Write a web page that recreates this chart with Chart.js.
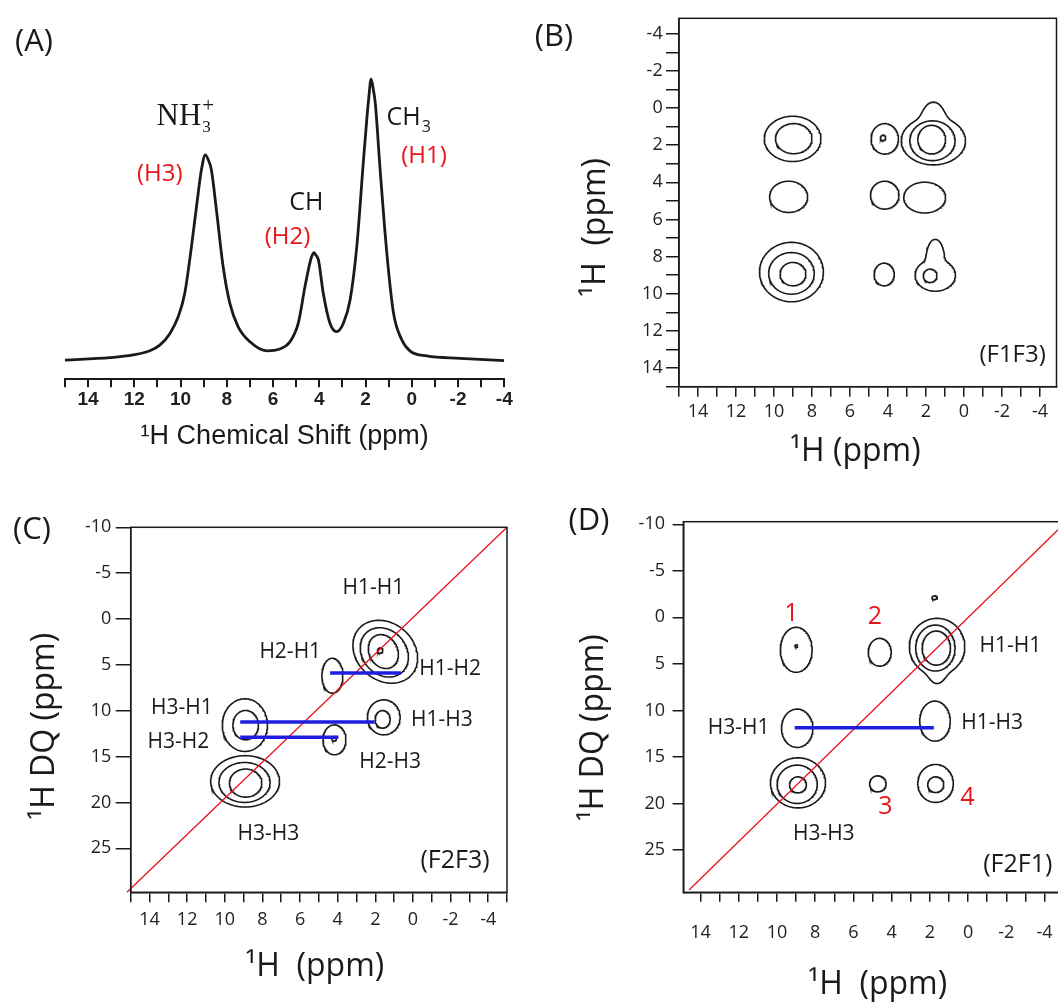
<!DOCTYPE html>
<html><head><meta charset="utf-8">
<script src="https://cdn.jsdelivr.net/npm/chart.js@4.4.1/dist/chart.umd.min.js"></script>
<style>
html,body{margin:0;padding:0;background:#fff;overflow:hidden;width:1058px;height:1002px;position:relative}
canvas{position:absolute}
.pl{position:absolute;font-family:"Open Sans",sans-serif;font-size:31px;color:#1a1a1a;transform:translate(-50%,-50%);line-height:1;white-space:nowrap}
</style></head><body>
<canvas id="cA" width="530" height="470" style="left:0;top:0"></canvas>
<canvas id="cB" width="540" height="480" style="left:530px;top:0"></canvas>
<canvas id="cC" width="530" height="522" style="left:0;top:480px"></canvas>
<canvas id="cD" width="560" height="540" style="left:530px;top:480px"></canvas>
<div class="pl" style="left:34px;top:39px">(A)</div>
<div class="pl" style="left:554px;top:34px">(B)</div>
<div class="pl" style="left:32px;top:527px">(C)</div>
<div class="pl" style="left:589px;top:518px">(D)</div>
<script>
// ---------- DATA ----------
// (A) 1D 1H spectrum: chemical shift (ppm) and relative intensity
const specPpm = [15.0, 13.06, 12.05, 11.33, 10.9, 10.46, 10.1, 9.82, 9.53, 9.24, 9.1, 8.93, 8.8, 8.67, 8.45, 8.16, 7.87, 7.51, 7.0, 6.28, 5.71, 5.27, 4.91, 4.62, 4.41, 4.33, 4.23, 4.15, 4.04, 3.83, 3.54, 3.25, 2.96, 2.67, 2.38, 2.09, 1.95, 1.87, 1.76, 1.66, 1.58, 1.37, 1.08, 0.79, 0.43, 0.07, -0.65, -2.09, -4.0];
const specInt = [6.4, 7.2, 8.1, 9.5, 11.4, 15.3, 20.9, 28.7, 44.2, 62.0, 69.8, 74.8, 73.1, 69.8, 56.4, 37.5, 25.3, 17.5, 12.5, 9.5, 10.1, 12.5, 18.7, 30.9, 38.7, 40.9, 42.2, 41.4, 39.8, 28.7, 18.7, 15.9, 18.7, 26.4, 44.2, 73.1, 86.4, 93.1, 100, 96.4, 92.0, 69.8, 42.0, 22.0, 13.1, 9.4, 7.8, 7.0, 6.2];

// tick labels
const ppmTickLabels = [14, 12, 10, 8, 6, 4, 2, 0, -2, -4];
const bYTickLabels = [-4, -2, 0, 2, 4, 6, 8, 10, 12, 14];
const dqTickLabels = [-10, -5, 0, 5, 10, 15, 20, 25];

// (B) F1F3 contours: centre (x ppm, y ppm), half-widths, top bump
const bCx = [9.02, 8.96, 4.17, 4.26, 1.61, 1.66, 1.70, 9.23, 4.17, 2.07, 9.08, 9.08, 9.00, 4.20, 1.51, 1.78];
const bCy = [1.66, 1.65, 1.66, 1.61, 1.77, 1.76, 1.70, 4.78, 4.69, 4.82, 8.83, 8.90, 8.94, 8.96, 9.00, 9.03];
const bRx = [1.49, 0.96, 0.72, 0.14, 1.69, 1.19, 0.73, 1.00, 0.75, 1.10, 1.68, 1.20, 0.68, 0.53, 1.06, 0.36];
const bRy = [1.22, 0.81, 0.82, 0.15, 1.29, 1.07, 0.77, 0.84, 0.75, 0.83, 1.60, 1.12, 0.63, 0.61, 0.86, 0.36];
const bBump = [0, 0, 0, 0, 0.62, 0, 0, 0, 0, 0, 0, 0, 0, 0, 1.25, 0];

// (C) F2F3 contours
const cCx = [1.47, 1.52, 1.57, 1.74, 4.28, 8.93, 8.89, 1.55, 1.61, 4.17, 4.19, 8.92, 8.95, 8.89];
const cCy = [3.57, 3.64, 3.55, 3.44, 6.18, 11.57, 11.57, 10.72, 10.94, 13.17, 13.06, 17.70, 17.82, 17.89];
const cRx = [1.72, 1.28, 0.80, 0.14, 0.56, 1.20, 0.68, 0.87, 0.40, 0.61, 0.12, 1.83, 1.36, 0.86];
const cRy = [3.36, 2.64, 1.82, 0.29, 1.90, 2.87, 1.60, 1.91, 0.96, 1.63, 0.25, 2.80, 2.18, 1.53];
const cTilt = [-0.4, -0.4, -0.4, 0, 0, 0, 0, 0, 0, 0, 0, 0, 0, 0];
const cLinkX1 = [4.40, 9.18, 9.18];
const cLinkX2 = [0.64, 2.04, 3.96];
const cLinkY = [5.90, 11.24, 12.88];
const cDiagX = [15.2, -5];
const cDiagY = [29.8, -10];

// (D) F2F1 contours
const dCx = [8.99, 8.99, 4.62, 1.62, 1.71, 1.66, 1.75, 8.94, 1.73, 8.90, 8.94, 8.90, 4.72, 1.70, 1.69];
const dCy = [3.49, 3.09, 3.75, 3.16, 3.30, 3.30, -2.11, 11.92, 11.15, 17.79, 17.94, 18.00, 17.89, 17.85, 17.98];
const dRx = [0.83, 0.07, 0.60, 1.45, 1.03, 0.74, 0.14, 0.82, 0.80, 1.44, 1.05, 0.44, 0.43, 0.93, 0.42];
const dRy = [2.42, 0.15, 1.49, 3.05, 2.47, 1.83, 0.20, 2.06, 2.15, 2.69, 2.06, 0.86, 0.86, 2.04, 0.84];
const dBump = [0, 0, 0, -0.3, 0, 0, 0, 0, 0, 0, 0, 0, 0, 0, 0];
const dLinkX1 = [9.07];
const dLinkX2 = [1.79];
const dLinkY = [11.87];
const dDiagX = [14.6, -5.14];
const dDiagY = [29.3, -10.28];

// ---------- STYLE ----------
const INK = '#1a1a1a';
const RED = '#e8141c';
const BLUE = '#1e1ee0';
const OS = '"Open Sans", sans-serif';
const NB = '\u00A0';

function ellipse(cx, cy, rx, ry, bump, tilt) {
  const pts = [];
  const n = 120;
  for (let i = 0; i <= n; i++) {
    const t = (i / n) * 2 * Math.PI;
    let f = 1;
    if (bump) {
      const t0 = bump > 0 ? 1.5 * Math.PI : 0.5 * Math.PI;
      let d = Math.abs(t - t0); d = Math.min(d, 2 * Math.PI - d);
      f = 1 + Math.abs(bump) * Math.exp(-Math.pow(d / 0.3, 2));
    }
    const dx = rx * Math.cos(t) * f;
    pts.push({x: cx + dx, y: cy + ry * Math.sin(t) * f + (tilt || 0) * dx});
  }
  return pts;
}

function labelsPlugin(items) {
  return {
    id: 'txt',
    afterDatasetsDraw(chart) {
      const {ctx} = chart, sx = chart.scales.x, sy = chart.scales.y;
      ctx.save();
      for (const it of items) {
        const px = sx.getPixelForValue(it.x), py = sy.getPixelForValue(it.y);
        ctx.font = it.font || ('21px ' + OS);
        ctx.fillStyle = it.color || INK;
        ctx.textAlign = it.align || 'center';
        ctx.textBaseline = it.baseline || 'middle';
        ctx.fillText(it.text, px, py);
        if (it.sub || it.sup) {
          const w = ctx.measureText(it.text).width;
          ctx.font = it.subFont; ctx.textAlign = 'left'; ctx.textBaseline = 'alphabetic';
          if (it.sub) ctx.fillText(it.sub, px + w + (it.subDx || 0), py + it.subDy);
          if (it.sup) { ctx.font = it.supFont || it.subFont; ctx.fillText(it.sup, px + w + (it.supDx || 0), py + it.supDy); }
        }
      }
      ctx.restore();
    }
  };
}
const framePlugin = {
  id: 'frame',
  afterDraw(chart) {
    const a = chart.chartArea, ctx = chart.ctx;
    ctx.save(); ctx.strokeStyle = INK; ctx.lineWidth = 1.5;
    ctx.strokeRect(a.left, a.top, a.right - a.left, a.bottom - a.top);
    ctx.restore();
  }
};

function axis(o) {
  const fit = o.horiz ? (s => { s.height = o.size; }) : (s => { s.width = o.size; });
  return {
    type: 'linear', reverse: true, min: o.min, max: o.max, position: o.horiz ? 'bottom' : 'left',
    afterFit: fit,
    border: {display: true, color: INK, width: o.bw || 1.5},
    grid: {display: true, drawOnChartArea: false, drawTicks: true, tickLength: o.tl, color: INK, lineWidth: o.bw || 1.5},
    ticks: {stepSize: o.step, autoSkip: false, maxRotation: 0, minRotation: 0, includeBounds: false,
      padding: o.pad, color: '#222', font: o.font,
      callback: v => { const r = Math.round(v * 1000) / 1000; return o.labels.includes(r) ? String(r) : ''; }},
    title: {display: true, text: o.title, color: INK, font: o.tfont, padding: o.tpad}
  };
}
const base = {responsive: false, animation: false, devicePixelRatio: 1, events: [],
  plugins: {legend: {display: false}, tooltip: {enabled: false}}};
const tickFont = {family: OS, size: 18};
const titleFont = {family: OS, size: 32};

function lineSet(xs, ys, color, width) {
  return {data: xs.map((x, i) => ({x, y: ys[i]})), showLine: true, borderColor: color, borderWidth: width,
    pointRadius: 0, fill: false, clip: false};
}
function contourSets(cx, cy, rx, ry, bump, tilt) {
  return cx.map((x, i) => ({data: ellipse(x, cy[i], rx[i], ry[i], bump ? bump[i] : 0, tilt ? tilt[i] : 0),
    showLine: true, borderColor: INK, borderWidth: 1.6, pointRadius: 0, fill: false}));
}
function linkSets(x1, x2, y) {
  return x1.map((x, i) => lineSet([x, x2[i]], [y[i], y[i]], BLUE, 3.5));
}

// ---------- (A) ----------
new Chart(document.getElementById('cA'), {
  type: 'scatter',
  data: {datasets: [{data: specPpm.map((x, i) => ({x, y: specInt[i]})), showLine: true, borderColor: INK,
    borderWidth: 2.8, pointRadius: 0, fill: false, cubicInterpolationMode: 'monotone'}]},
  options: Object.assign({}, base, {
    layout: {padding: {left: 65, right: 25.7, top: 60, bottom: 0}},
    scales: {
      x: axis({horiz: true, min: -4, max: 15, step: 1, labels: ppmTickLabels, size: 90.7, tl: 8, pad: 1.5, bw: 2,
        font: {family: '"Liberation Sans", Arial, sans-serif', size: 19, weight: 'bold'},
        title: '¹H Chemical Shift (ppm)', tfont: {family: '"Liberation Sans", Arial, sans-serif', size: 27},
        tpad: {top: 0, bottom: 16.8}}),
      y: {display: false, min: 0, max: 106.4}
    }
  }),
  plugins: [labelsPlugin([
    {text: 'NH', x: 11.04, y: 84.8, font: '31px "Liberation Serif", serif', align: 'left', baseline: 'alphabetic',
      sub: '3', sup: '+', subFont: '17px "Liberation Serif", serif', supFont: '21px "Liberation Serif", serif', subDy: 7, supDy: -13, subDx: 1, supDx: 1},
    {text: 'CH', x: 1.09, y: 84.8, font: '25px ' + OS, align: 'left', baseline: 'alphabetic',
      sub: '3', subFont: '16px ' + OS, subDy: 7, subDx: 1},
    {text: '(H1)', x: -0.53, y: 74.4, font: '24px ' + OS, color: RED},
    {text: '(H3)', x: 10.9, y: 68.4, font: '24px ' + OS, color: RED},
    {text: 'CH', x: 4.56, y: 58.8, font: '25px ' + OS},
    {text: '(H2)', x: 5.38, y: 47.4, font: '24px ' + OS, color: RED}
  ])]
});

// ---------- (B) ----------
new Chart(document.getElementById('cB'), {
  type: 'scatter',
  data: {datasets: contourSets(bCx, bCy, bRx, bRy, bBump, null)},
  options: Object.assign({}, base, {
    layout: {padding: {left: 0, right: 13.5, top: 18.3, bottom: 0}},
    scales: {
      x: axis({horiz: true, min: -4.87, max: 15, step: 1, labels: ppmTickLabels, size: 93.3, tl: 10, pad: 4.2,
        font: tickFont, title: '¹H (ppm)' + NB + NB + NB, tfont: titleFont, tpad: {top: 0, bottom: 8.8}}),
      y: axis({horiz: false, min: -4.83, max: 15, step: 1, labels: bYTickLabels, size: 149, tl: 13, pad: 3.3,
        font: tickFont, title: '¹H' + NB + NB + '(ppm)' + NB.repeat(6), tfont: titleFont, tpad: {top: 46.8, bottom: 0}})
    }
  }),
  plugins: [framePlugin, labelsPlugin([
    {text: '(F1F3)', x: -2.56, y: 13.29, font: '24px ' + OS}
  ])]
});

// ---------- (C) ----------
new Chart(document.getElementById('cC'), {
  type: 'scatter',
  data: {datasets: [].concat(linkSets(cLinkX1, cLinkX2, cLinkY), [lineSet(cDiagX, cDiagY, RED, 1.3)],
    contourSets(cCx, cCy, cRx, cRy, null, cTilt))},
  options: Object.assign({}, base, {
    layout: {padding: {left: 0, right: 23, top: 47.3, bottom: 0}},
    scales: {
      x: axis({horiz: true, min: -5, max: 15, step: 1, labels: ppmTickLabels, size: 109.7, tl: 10, pad: 7,
        font: tickFont, title: '¹H' + NB + NB + '(ppm)' + NB, tfont: titleFont, tpad: {top: 0, bottom: 16.1}}),
      y: axis({horiz: false, min: -10, max: 29.8, step: 5, labels: dqTickLabels, size: 130.7, tl: 15, pad: 4.3,
        font: tickFont, title: '¹H DQ (ppm)' + NB.repeat(4), tfont: titleFont, tpad: {top: 25.8, bottom: 0}})
    }
  }),
  plugins: [framePlugin, labelsPlugin([
    {text: 'H1-H1', x: 2.10, y: -3.36}, {text: 'H2-H1', x: 6.52, y: 3.55}, {text: 'H1-H2', x: -1.98, y: 5.47},
    {text: 'H3-H1', x: 12.28, y: 9.72}, {text: 'H3-H2', x: 12.46, y: 13.36}, {text: 'H1-H3', x: -1.54, y: 10.99},
    {text: 'H2-H3', x: 1.21, y: 15.64}, {text: 'H3-H3', x: 7.68, y: 23.41},
    {text: '(F2F3)', x: -2.24, y: 26.32, font: '25px ' + OS}
  ])]
});

// ---------- (D) ----------
new Chart(document.getElementById('cD'), {
  type: 'scatter',
  data: {datasets: [].concat(linkSets(dLinkX1, dLinkX2, dLinkY), [lineSet(dDiagX, dDiagY, RED, 1.3)],
    contourSets(dCx, dCy, dRx, dRy, dBump, null))},
  options: Object.assign({}, base, {
    layout: {padding: {left: 0, right: 26.4, top: 41.7, bottom: 0}},
    scales: {
      x: axis({horiz: true, min: -5, max: 14.9, step: 1, labels: ppmTickLabels, size: 127.7, tl: 9.5, pad: 20.5,
        font: tickFont, title: NB + '¹H' + NB + NB + '(ppm)', tfont: titleFont, tpad: {top: 0, bottom: 15.8}}),
      y: axis({horiz: false, min: -10.28, max: 29.55, step: 5, labels: dqTickLabels, size: 153.3, tl: 10.7, pad: 7.6,
        font: tickFont, title: '¹H DQ (ppm)' + NB.repeat(5), tfont: titleFont, tpad: {top: 44.6, bottom: 0}})
    }
  }),
  plugins: [framePlugin, labelsPlugin([
    {text: '1', x: 9.24, y: -0.35, font: '25px ' + OS, color: RED},
    {text: '2', x: 4.88, y: -0.07, font: '25px ' + OS, color: RED},
    {text: 'H1-H1', x: -2.22, y: 3.09}, {text: 'H3-H1', x: 12.0, y: 11.94}, {text: 'H1-H3', x: -1.26, y: 11.33},
    {text: '3', x: 4.32, y: 20.37, font: '25px ' + OS, color: RED},
    {text: '4', x: 0.04, y: 19.35, font: '25px ' + OS, color: RED},
    {text: 'H3-H3', x: 7.55, y: 23.3},
    {text: '(F2F1)', x: -2.6, y: 26.63, font: '25px ' + OS}
  ])]
});
</script>
</body></html>
